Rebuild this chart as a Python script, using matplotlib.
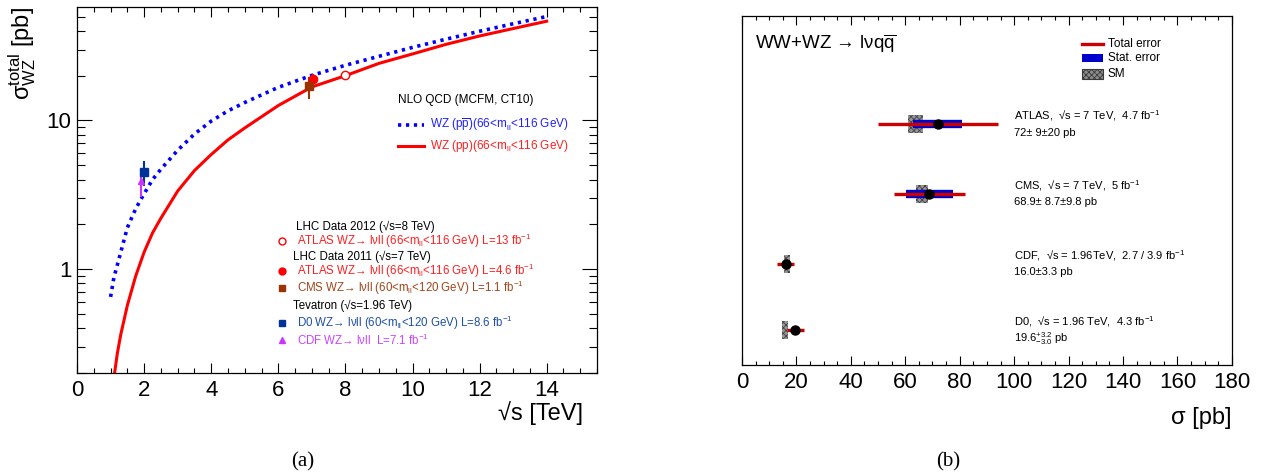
"""
WZ cross section vs sqrt(s) (a) and WW+WZ -> lvqq summary (b)
"""
import matplotlib
matplotlib.use('Agg')
import matplotlib.pyplot as plt
from matplotlib.ticker import MultipleLocator, FixedLocator, NullFormatter

plt.rcParams['font.family'] = ['Liberation Sans', 'DejaVu Sans']
plt.rcParams['mathtext.fontset'] = 'custom'
plt.rcParams['mathtext.rm'] = 'Liberation Sans'
plt.rcParams['mathtext.it'] = 'Liberation Sans:italic'
plt.rcParams['mathtext.bf'] = 'Liberation Sans:bold'
plt.rcParams['mathtext.sf'] = 'Liberation Sans'
plt.rcParams['hatch.linewidth'] = 0.6

# ---- (a) NLO predictions
sqrts_ppbar = [1.0, 1.1, 1.25, 1.5, 1.75, 1.96, 2.25, 2.5, 3.0, 3.5, 4.0, 4.5, 5.0, 6.0, 7.0,
               8.0, 9.0, 10.0, 11.0, 12.0, 13.0, 14.0]
xs_ppbar = [0.65, 0.88, 1.17, 1.9, 2.55, 3.1, 4.0, 4.7, 6.3, 8.1, 9.9, 11.6, 13.2, 16.7, 20.1,
            23.5, 27.0, 31.0, 35.2, 39.8, 44.7, 50.0]
sqrts_pp = [1.12, 1.2, 1.3, 1.5, 1.75, 2.0, 2.25, 2.5, 3.0, 3.5, 4.0, 4.5, 5.0, 6.0, 7.0,
            8.0, 9.0, 10.0, 11.0, 12.0, 13.0, 14.0]
xs_pp = [0.2, 0.27, 0.36, 0.57, 0.9, 1.3, 1.75, 2.2, 3.35, 4.6, 5.9, 7.4, 8.9, 12.6, 16.8,
         20.0, 24.2, 28.0, 32.5, 37.0, 41.5, 46.5]

# measurements: ATLAS 2012, ATLAS 2011, CMS 2011, D0, CDF
meas_names = ['ATLAS 2012', 'ATLAS 2011', 'CMS', 'D0', 'CDF']
meas_sqrts = [8.0, 7.04, 6.92, 2.0, 1.9]
meas_xs = [20.3, 19.0, 17.0, 4.5, 3.9]
meas_err_lo = [1.3, 1.4, 3.0, 0.9, 0.85]
meas_err_hi = [1.3, 1.4, 2.5, 0.85, 0.8]
meas_colors = ['#ff0000', '#ff0000', '#993300', '#003399', '#cc33ff']
meas_markers = ['o', 'o', 's', 's', '^']
meas_filled = [False, True, True, True, True]

# ---- (b) WW+WZ -> lvqq results
experiments = ['ATLAS', 'CMS', 'CDF', 'D0']
sigma = [72.0, 68.9, 16.0, 19.6]
stat_err = [9.0, 8.7, 0.0, 0.0]
tot_err_lo = [22.0, 13.1, 3.3, 3.0]
tot_err_hi = [22.0, 13.1, 3.3, 3.2]
sm_lo = [61.0, 63.9, 15.4, 14.7]
sm_hi = [66.5, 68.3, 17.6, 16.9]
exp_line1 = ['ATLAS,  √s = 7 TeV,  4.7 fb$^{-1}$',
             'CMS,  √s = 7 TeV,  5 fb$^{-1}$',
             'CDF,  √s = 1.96TeV,  2.7 / 3.9 fb$^{-1}$',
             'D0,  √s = 1.96 TeV,  4.3 fb$^{-1}$']
exp_line2 = ['72± 9±20 pb',
             '68.9± 8.7±9.8 pb',
             '16.0±3.3 pb',
             '19.6$^{+3.2}_{-3.0}$ pb']
ypos = [3.45, 2.45, 1.45, 0.5]

fig = plt.figure(figsize=(12.67, 4.76), dpi=100)
ax1 = fig.add_axes([0.0608, 0.2164, 0.4104, 0.769])
ax2 = fig.add_axes([0.5856, 0.2332, 0.3867, 0.733])

# ================= (a)
ax1.set_yscale('log')
ax1.plot(sqrts_ppbar, xs_ppbar, color='#0000ff', lw=2.6, ls=(0, (0.9, 1.3)))
ax1.plot(sqrts_pp, xs_pp, color='#ff0000', lw=2.2)

for i in range(len(meas_names)):
    ax1.errorbar(meas_sqrts[i], meas_xs[i],
                 yerr=[[meas_err_lo[i]], [meas_err_hi[i]]],
                 fmt=meas_markers[i], color=meas_colors[i], ms=6 if meas_markers[i] != '^' else 5,
                 mfc=meas_colors[i] if meas_filled[i] else 'white',
                 mec=meas_colors[i], mew=1.0, elinewidth=1.5, capsize=0)

ax1.set_xlim(0, 15.5)
ax1.set_ylim(0.2, 58)
ax1.xaxis.set_major_locator(MultipleLocator(2))
ax1.xaxis.set_minor_locator(MultipleLocator(0.5))
ax1.yaxis.set_major_locator(FixedLocator([1, 10]))
ax1.set_yticklabels(['1', '10'])
ax1.yaxis.set_minor_locator(FixedLocator([0.2, 0.3, 0.4, 0.5, 0.6, 0.7, 0.8, 0.9,
                                          2, 3, 4, 5, 6, 7, 8, 9, 20, 30, 40, 50]))
ax1.yaxis.set_minor_formatter(NullFormatter())
ax1.tick_params(axis='both', which='both', direction='in', top=True, right=True,
                labelsize=16, width=0.8)
ax1.tick_params(axis='x', which='major', length=7.5, pad=5)
ax1.tick_params(axis='x', which='minor', length=3.8)
ax1.tick_params(axis='y', which='major', length=11, pad=4)
ax1.tick_params(axis='y', which='minor', length=5.5)
for s in ax1.spines.values():
    s.set_linewidth(0.9)

ax1.set_xlabel('√s [TeV]', fontsize=17, loc='right')
ax1.xaxis.set_label_coords(0.973, -0.076)
ax1.set_ylabel(r'$\mathrm{\sigma^{total}_{WZ}}$ [pb]', fontsize=17, loc='top', labelpad=6)

# legend block (a)
tr = ax1.transAxes
ax1.text(0.617, 0.746, 'NLO QCD (MCFM, CT10)', transform=tr, fontsize=8.5, va='center')
ax1.plot([0.617, 0.667], [0.678, 0.678], transform=tr, color='#0000ff', lw=2.6,
         ls=(0, (0.9, 1.3)))
ax1.text(0.679, 0.678, r'WZ (p$\overline{\mathrm{p}}$)(66<m$_{\mathrm{ll}}$<116 GeV)', transform=tr,
         fontsize=8.5, va='center', color='#2020ff')
ax1.plot([0.617, 0.667], [0.620, 0.620], transform=tr, color='#ff0000', lw=2.2)
ax1.text(0.679, 0.620, r'WZ (pp)(66<m$_{\mathrm{ll}}$<116 GeV)', transform=tr,
         fontsize=8.5, va='center', color='#ff2020')

leg_rows = [
    (0.399, None, 'LHC Data 2012 (√s=8 TeV)', 'black', 0.421),
    (0.361, 0, r'ATLAS WZ→ lνll (66<m$_{\mathrm{ll}}$<116 GeV) L=13 fb$^{-1}$', '#ff2020', 0.423),
    (0.317, None, 'LHC Data 2011 (√s=7 TeV)', 'black', 0.415),
    (0.279, 1, r'ATLAS WZ→ lνll (66<m$_{\mathrm{ll}}$<116 GeV) L=4.6 fb$^{-1}$', '#ff2020', 0.423),
    (0.232, 2, r'CMS WZ→ lνll (60<m$_{\mathrm{ll}}$<120 GeV) L=1.1 fb$^{-1}$', '#a0451a', 0.423),
    (0.183, None, 'Tevatron (√s=1.96 TeV)', 'black', 0.415),
    (0.137, 3, r'D0 WZ→ lνll (60<m$_{\mathrm{ll}}$<120 GeV) L=8.6 fb$^{-1}$', '#1f4fa8', 0.423),
    (0.090, 4, r'CDF WZ→ lνll  L=7.1 fb$^{-1}$', '#cc44ff', 0.423),
]
for y, idx, label, col, xt in leg_rows:
    if idx is not None:
        ax1.plot([0.394], [y], transform=tr, marker=meas_markers[idx], ls='none',
                 ms=5 if meas_markers[idx] != '^' else 4.5, color=meas_colors[idx],
                 mfc=meas_colors[idx] if meas_filled[idx] else 'white', mec=meas_colors[idx])
    ax1.text(xt, y, label, transform=tr, fontsize=8.3, va='center', color=col)

# ================= (b)
for i in range(len(experiments)):
    y = ypos[i]
    if stat_err[i] > 0:
        ax2.hlines(y, sigma[i] - stat_err[i], sigma[i] + stat_err[i], color='#0000cc', lw=6)
    ax2.bar(0.5 * (sm_lo[i] + sm_hi[i]), 0.26, width=sm_hi[i] - sm_lo[i], bottom=y - 0.13,
            color='#8c8c8c', edgecolor='#3a3a3a', hatch='xxxxxx', lw=0, alpha=0.9)
    ax2.hlines(y, sigma[i] - tot_err_lo[i], sigma[i] + tot_err_hi[i], color='#cc0000', lw=2.4)
    ax2.plot(sigma[i], y, 'o', color='black', ms=6.5)
    ax2.text(100, y + 0.12, exp_line1[i], fontsize=8, va='center')
    ax2.text(100, y - 0.12, exp_line2[i], fontsize=8, va='center')

ax2.set_xlim(0, 180)
ax2.set_ylim(0, 5)
ax2.xaxis.set_major_locator(MultipleLocator(20))
ax2.xaxis.set_minor_locator(MultipleLocator(5))
ax2.set_yticks([])
ax2.tick_params(axis='x', which='both', direction='in', top=True, labelsize=16, width=0.8)
ax2.tick_params(axis='x', which='major', length=6.5, pad=5)
ax2.tick_params(axis='x', which='minor', length=3.2)
for s in ax2.spines.values():
    s.set_linewidth(0.9)
ax2.set_xlabel('σ [pb]', fontsize=17, loc='right', labelpad=10)

tr2 = ax2.transAxes
ax2.text(0.027, 0.92, r'WW+WZ → lνq$\overline{\mathrm{q}}$', transform=tr2,
         fontsize=13.5, va='center')
ax2.plot([0.694, 0.737], [0.920, 0.920], transform=tr2, color='#cc0000', lw=2.4)
ax2.add_patch(plt.Rectangle((0.694, 0.869), 0.043, 0.023, transform=tr2,
                            facecolor='#0000cc', edgecolor='none'))
ax2.add_patch(plt.Rectangle((0.694, 0.820), 0.043, 0.029, transform=tr2,
                            facecolor='#8c8c8c', edgecolor='#3a3a3a', hatch='xxxxxx', lw=0.8))
ax2.text(0.747, 0.920, 'Total error', transform=tr2, fontsize=8.5, va='center')
ax2.text(0.747, 0.880, 'Stat. error', transform=tr2, fontsize=8.5, va='center')
ax2.text(0.747, 0.834, 'SM', transform=tr2, fontsize=8.5, va='center')

fig.text(0.239, 0.029, '(a)', fontsize=15, family='Liberation Serif', ha='center', va='center')
fig.text(0.748, 0.029, '(b)', fontsize=15, family='Liberation Serif', ha='center', va='center')

fig.savefig('out.png', dpi=100)
plt.close(fig)
